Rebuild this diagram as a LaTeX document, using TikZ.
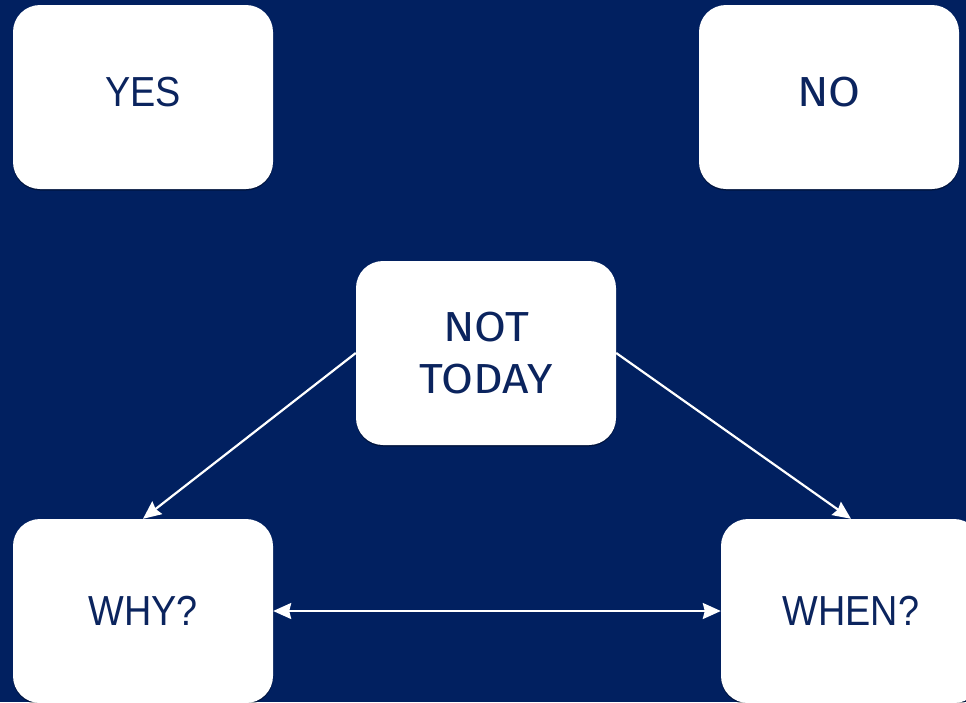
\documentclass[tikz,border=0pt]{standalone}
\usepackage{fontspec}
\setmainfont{Liberation Sans}[FakeStretch=0.9]
\newfontfamily\altfont{Fira Sans}[FakeStretch=1.1]
\usetikzlibrary{arrows.meta,shadows}
\definecolor{navy}{HTML}{012060}
\definecolor{ink}{HTML}{0B245E}
\tikzset{tip/.tip={Stealth[length=18pt,width=16pt,inset=2pt]}}
\begin{document}
\begin{tikzpicture}[x=1pt,y=-1pt,
  card/.style={fill=white, rounded corners=27pt, minimum width=260pt, minimum height=184pt,
    inner sep=0pt, text=ink, font=\fontsize{42}{52}\selectfont, align=center,
    drop shadow={opacity=0.35, shadow xshift=0pt, shadow yshift=-1.5pt, fill=black}},
  altcard/.style={card, font=\altfont\fontsize{42}{52}\selectfont},
  link/.style={draw=white, line width=2.2pt, -tip},
  both/.style={draw=white, line width=2.2pt, tip-tip}]
\fill[navy] (0,0) rectangle (966,702);
\useasboundingbox (0,0) rectangle (966,702);
\node[card, text depth=10pt] (yes) at (143,97) {YES};
\node[altcard, text depth=10pt] (no) at (829,97) {NO};
\node[altcard] (nt) at (486,353) {NOT\\TODAY};
\node[card] (why) at (143,611) {WHY?};
\node[card] (when) at (851,611) {WHEN?};
\draw[link] (nt.west) -- (why.north);
\draw[link] (nt.east) -- (when.north);
\draw[both] (why.east) -- (when.west);
\end{tikzpicture}
\end{document}
